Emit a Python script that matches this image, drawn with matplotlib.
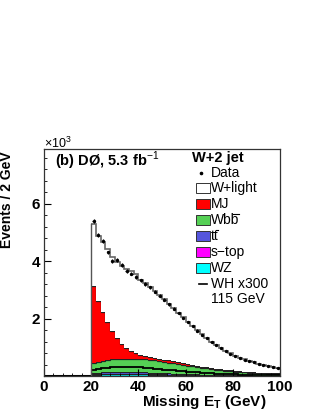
import numpy as np
import matplotlib
matplotlib.use("Agg")
import matplotlib.pyplot as plt
from matplotlib.patches import Rectangle
from matplotlib.lines import Line2D

plt.rcParams['font.family'] = ['Liberation Sans', 'DejaVu Sans']
plt.rcParams['mathtext.fontset'] = 'custom'
plt.rcParams['mathtext.rm'] = 'Liberation Sans'
plt.rcParams['mathtext.bf'] = 'Liberation Sans:bold'

# 2 GeV bins from 20 to 100 GeV (nothing below 20)
bin_lo = 20
bin_w = 2

data = [5400, 4900, 4700, 4300, 4000, 4040, 3860, 3650, 3560, 3450,
        3330, 3200, 3080, 2940, 2800, 2660, 2500, 2340, 2190, 2020,
        1880, 1740, 1580, 1440, 1310, 1180, 1070, 970, 870, 780,
        700, 630, 570, 520, 470, 420, 380, 340, 310, 280]

wz = [45, 50, 55, 58, 60, 62, 62, 62, 60, 58, 56, 54, 51, 48, 45, 42, 39, 36, 33, 30,
      28, 26, 24, 22, 20, 18, 16, 15, 13, 12, 11, 10, 9, 8, 7, 7, 6, 5, 5, 4]
stop = [15, 17, 18, 19, 20, 20, 20, 19, 19, 18, 17, 16, 15, 14, 13, 12, 11, 10, 9, 8,
        8, 7, 6, 6, 5, 5, 4, 4, 3, 3, 3, 2, 2, 2, 2, 1, 1, 1, 1, 1]
ttbar = [40, 45, 50, 55, 58, 60, 62, 62, 61, 60, 58, 56, 54, 51, 48, 45, 42, 39, 36, 33,
         30, 28, 25, 23, 21, 19, 17, 15, 14, 12, 11, 10, 9, 8, 7, 6, 5, 5, 4, 4]
wbb = [365, 388, 407, 423, 437, 448, 456, 462, 465, 464, 459, 449, 440, 427, 409, 391,
       373, 355, 332, 314, 294, 274, 255, 234, 219, 203, 188, 171, 155, 143, 130, 118,
       108, 100, 92, 86, 80, 74, 70, 66]
mj = [2675, 2095, 1680, 1320, 995, 725, 515, 360, 265, 190, 145, 115, 95, 88, 85, 82,
      78, 74, 70, 65, 60, 55, 50, 45, 40, 36, 33, 30, 28, 26, 24, 22, 21, 20, 19, 18,
      17, 16, 15, 14]
wlight = [2150, 2275, 2470, 2545, 2570, 2645, 2705, 2755, 2770, 2770, 2615, 2530, 2435,
          2322, 2210, 2108, 1977, 1866, 1720, 1600, 1460, 1350, 1230, 1120, 1015, 909,
          822, 745, 667, 594, 531, 478, 431, 382, 343, 307, 276, 244, 220, 196]
wh300 = [200, 240, 270, 295, 310, 320, 325, 325, 320, 312, 300, 288, 273, 258, 242, 226,
         210, 194, 178, 163, 149, 136, 123, 112, 101, 91, 82, 74, 66, 59, 53, 47, 42, 37,
         33, 29, 26, 23, 20, 18]

# (name, values, colour); a trailing "~" marks a letter drawn with an overbar
layers = [("WZ", wz, "#00ffff"),
          ("s\u2212top", stop, "#ff00ff"),
          ("tt~", ttbar, "#5555dd"),
          ("Wbb~", wbb, "#55d055"),
          ("MJ", mj, "#ff0000"),
          ("W+light", wlight, "#ffffff")]

nb = len(data)
edges = bin_lo + bin_w * np.arange(nb + 1)
centers = edges[:-1] + bin_w / 2

fig = plt.figure(figsize=(3.19, 4.12), dpi=100)
ax = fig.add_axes([44 / 319, 36 / 412, 236 / 319, 227 / 412])

bottom = np.zeros(nb)
for name, vals, col in layers:
    top = bottom + np.array(vals)
    ax.stairs(top, edges, baseline=bottom, fill=True, color=col, lw=0)
    ax.stairs(top, edges, baseline=None, color="#222222" if name != "W+light" else "#666666",
              lw=0.9 if name != "W+light" else 1.2)
    bottom = top

ax.stairs(wh300, edges, baseline=None, color="black", lw=1.3)
# empty region below 20 GeV
ax.plot([0, bin_lo], [0, 0], color="black", lw=2.2, solid_capstyle="butt")
ax.plot([bin_lo, bin_lo], [0, bottom[0]], color="#555555", lw=1.0)

ax.errorbar(centers, data, yerr=np.sqrt(data), xerr=0.5, fmt="o", ms=1.4, color="black",
            elinewidth=0.9, capsize=0)

ax.set_xlim(0, 100)
ax.set_ylim(0, 7900)
ax.set_xticks([0, 20, 40, 60, 80, 100])
ax.set_xticks(np.arange(0, 101, 4), minor=True)
ax.set_yticks([0, 2000, 4000, 6000])
ax.set_yticklabels(["", "2", "4", "6"])
ax.set_yticks(np.arange(0, 7900, 400), minor=True)
ax.tick_params(which="both", direction="in", labelsize=11, pad=3)
ax.tick_params(which="major", length=5, width=0.8)
ax.tick_params(which="minor", length=2.5, width=0.6)
for lab in ax.get_xticklabels() + ax.get_yticklabels():
    lab.set_fontweight("bold")
for sp in ax.spines.values():
    sp.set_linewidth(0.9)
    sp.set_color("#333333")

ax.set_xlabel(r"Missing E$_{\bf T}$ (GeV)", fontsize=11, fontweight="bold", labelpad=1)
ax.xaxis.set_label_coords(0.68, -0.075)
ax.set_ylabel("Events / 2 GeV", fontsize=10, fontweight="bold")
ax.yaxis.set_label_coords(-0.125, 0.775)

fig.text(44 / 319, 1 - 143 / 412, r"$\times$10$^3$", fontsize=9, va="center", ha="left")
ax.text(0.045, (376 - 161) / 227, r"(b) DØ, 5.3 fb$^{-1}$", transform=ax.transAxes,
        fontsize=10.5, fontweight="bold", va="center", ha="left")


def ax_xy(px, py):
    return (px - 44) / 236, (376 - py) / 227


tx, ty = ax_xy(192, 158)
ax.text(tx, ty, "W+2 jet", transform=ax.transAxes, fontsize=10.5, fontweight="bold",
        va="center", ha="left")

renderer = fig.canvas.get_renderer()
text_x = 211
entries = [("Data", 173), ("W+light", 188), ("MJ", 204), ("Wbb~", 220),
           ("tt~", 236), ("s\u2212top", 252), ("WZ", 268)]
colors = {name: col for name, vals, col in layers}
for name, py in entries:
    x0, y0 = ax_xy(text_x, py)
    label = name.rstrip("~")
    t = ax.text(x0, y0, label, transform=ax.transAxes, fontsize=10, va="center", ha="left")
    if name.endswith("~"):
        # overbar on the last letter
        full = t.get_window_extent(renderer)
        t.set_text(label[:-1])
        part = t.get_window_extent(renderer)
        t.set_text(label)
        bar_y = 412 - (py - 6.5)
        fig.add_artist(Line2D([part.x1 + 0.8, full.x1 - 0.6], [bar_y, bar_y],
                              color="black", lw=0.8, transform=None))
    if name == "Data":
        bx, by = ax_xy(201, py)
        ax.plot([bx], [by], "o", ms=1.6, color="black", transform=ax.transAxes, clip_on=False)
    else:
        bx, by = ax_xy(196, py + 5)
        ax.add_patch(Rectangle((bx, by), 14 / 236, 10 / 227, transform=ax.transAxes,
                               facecolor=colors[name], edgecolor="#333333", lw=0.7,
                               clip_on=False))

lx0, ly = ax_xy(199, 284)
lx1, _ = ax_xy(207, 284)
ax.add_line(Line2D([lx0, lx1], [ly, ly], color="black", lw=1.2, transform=ax.transAxes))
x0, y0 = ax_xy(text_x, 284)
ax.text(x0, y0, "WH x300", transform=ax.transAxes, fontsize=10, va="center", ha="left")
x0, y0 = ax_xy(text_x, 299)
ax.text(x0, y0, "115 GeV", transform=ax.transAxes, fontsize=10, va="center", ha="left")

fig.savefig("out.png", dpi=100)
